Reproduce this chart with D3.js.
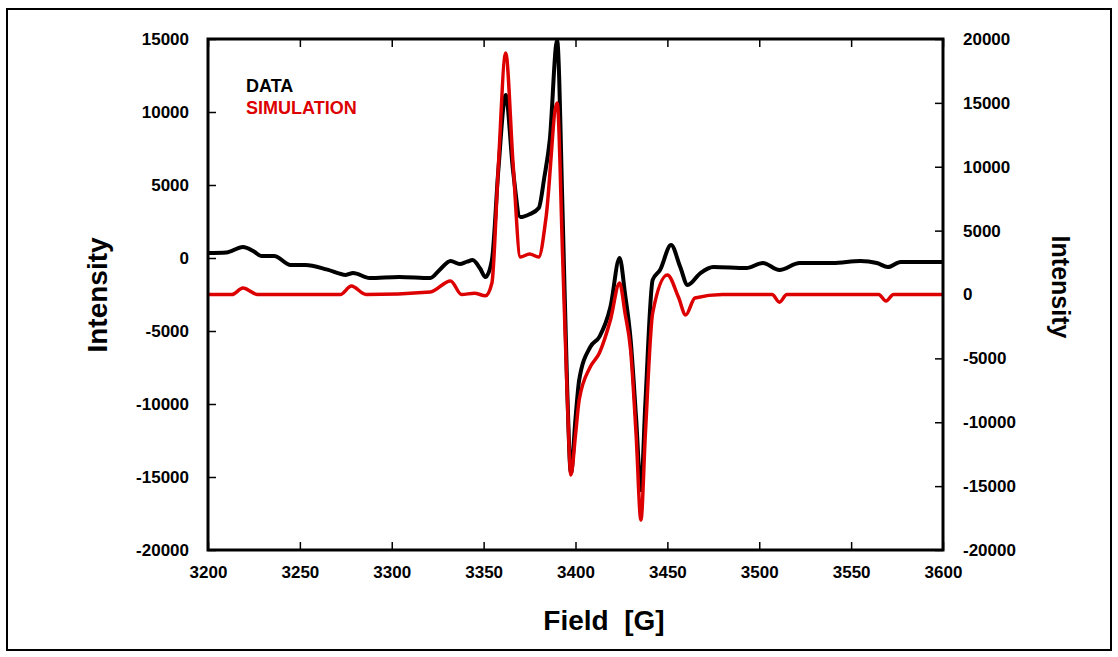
<!DOCTYPE html>
<html>
<head>
<meta charset="utf-8">
<script src="https://cdn.jsdelivr.net/npm/d3@7"></script>
<style>
  body { margin: 0; background: #fff; }
  svg { display: block; font-family: "Liberation Sans", Arial, sans-serif; }
</style>
</head>
<body>
<div id="chart"></div>
<script>
// Field in gauss
const dataField = [3200, 3210, 3219, 3225, 3229, 3236, 3245, 3253, 3265, 3275, 3279, 3288, 3304, 3321, 3326, 3332, 3337, 3341, 3344, 3348, 3351, 3354.5, 3358, 3362, 3366, 3370, 3375, 3380, 3383, 3386, 3390, 3393, 3395.5, 3397.5, 3400, 3402, 3408, 3413, 3419, 3424, 3427, 3430, 3433, 3435.6, 3438, 3442, 3446, 3452, 3457, 3461, 3468, 3475, 3493, 3502, 3511, 3522, 3540, 3555, 3564, 3570, 3577, 3600];
const dataIntensity = [340, 380, 750, 450, 140, 140, -480, -480, -800, -1160, -1030, -1370, -1300, -1370, -820, -200, -410, -250, -140, -700, -1300, -140, 6000, 11160, 6000, 2800, 3000, 3420, 5500, 8080, 14900, 3000, -9000, -14730, -11000, -8360, -6100, -5400, -3360, 0, -2500, -5600, -11000, -15900, -10000, -1500, -820, 890, -620, -1850, -1030, -620, -690, -340, -820, -340, -340, -200, -340, -620, -270, -270];

const simField = [3200, 3213, 3219, 3227, 3272, 3278, 3286, 3321, 3332, 3338, 3345, 3351, 3354.5, 3358, 3362, 3366, 3370, 3375, 3380, 3384, 3390, 3393, 3395.5, 3397.5, 3400, 3402, 3408, 3413, 3419, 3424, 3427, 3430, 3433, 3435.6, 3438, 3442, 3450, 3456, 3460, 3465, 3480, 3507, 3511, 3515, 3565, 3569, 3573, 3600];
const simIntensity = [0, 0, 500, 0, 0, 660, 0, 200, 1060, 0, 100, -100, 900, 10000, 18900, 10290, 2940, 3170, 2940, 6070, 15000, 3000, -8000, -14130, -11000, -8260, -5680, -4580, -2000, 900, -1500, -4350, -11000, -17650, -11000, -1450, 1530, -200, -1600, -270, 0, 0, -600, 0, 0, -500, 0, 0];

const xTicks = [3200, 3250, 3300, 3350, 3400, 3450, 3500, 3550, 3600];
const leftTicks = [15000, 10000, 5000, 0, -5000, -10000, -15000, -20000];
const rightTicks = [20000, 15000, 10000, 5000, 0, -5000, -10000, -15000, -20000];

const W = 1118, H = 657;
const plot = { left: 208, right: 943, top: 39, bottom: 550 };

const svg = d3.select('#chart').append('svg')
    .attr('width', W)
    .attr('height', H);

// outer frame
svg.append('rect')
    .attr('x', 7).attr('y', 9)
    .attr('width', 1104).attr('height', 641)
    .attr('fill', 'none')
    .attr('stroke', '#000')
    .attr('stroke-width', 2);

const x = d3.scaleLinear().domain([3200, 3600]).range([plot.left, plot.right]);
const yL = d3.scaleLinear().domain([-20000, 15000]).range([plot.bottom, plot.top]);
const yR = d3.scaleLinear().domain([-20000, 20000]).range([plot.bottom, plot.top]);

const tickLen = 8;
const plain = d => String(d); // plain hyphen minus, like the original

function styleAxis(g) {
    g.select('.domain').remove();
    g.selectAll('.tick line').attr('stroke', '#000').attr('stroke-width', 1.5);
    g.selectAll('.tick text')
        .attr('fill', '#000')
        .style('font-size', '17px')
        .style('font-weight', 'bold');
}

// bottom axis
svg.append('g')
    .attr('transform', `translate(0,${plot.bottom})`)
    .call(d3.axisBottom(x).tickValues(xTicks).tickSize(-tickLen).tickPadding(16).tickFormat(plain))
    .call(styleAxis);

// top ticks
svg.append('g')
    .attr('transform', `translate(0,${plot.top})`)
    .call(d3.axisTop(x).tickValues(xTicks).tickSize(-tickLen).tickFormat(''))
    .call(styleAxis);

// left axis
svg.append('g')
    .attr('transform', `translate(${plot.left},0)`)
    .call(d3.axisLeft(yL).tickValues(leftTicks).tickSize(-tickLen).tickPadding(19).tickFormat(plain))
    .call(styleAxis);

// right axis
svg.append('g')
    .attr('transform', `translate(${plot.right},0)`)
    .call(d3.axisRight(yR).tickValues(rightTicks).tickSize(-tickLen).tickPadding(20).tickFormat(plain))
    .call(styleAxis);

// clip for curves
svg.append('clipPath').attr('id', 'clip')
    .append('rect')
    .attr('x', plot.left).attr('y', plot.top)
    .attr('width', plot.right - plot.left).attr('height', plot.bottom - plot.top);

const simLine = d3.line()
    .x((d, i) => x(simField[i]))
    .y(d => yR(d))
    .curve(d3.curveMonotoneX);

const dataLine = d3.line()
    .x((d, i) => x(dataField[i]))
    .y(d => yL(d))
    .curve(d3.curveMonotoneX);

const curves = svg.append('g').attr('clip-path', 'url(#clip)');

curves.append('path')
    .attr('d', dataLine(dataIntensity))
    .attr('fill', 'none')
    .attr('stroke', '#000')
    .attr('stroke-width', 4)
    .attr('stroke-linejoin', 'round');

curves.append('path')
    .attr('d', simLine(simIntensity))
    .attr('fill', 'none')
    .attr('stroke', '#dd0000')
    .attr('stroke-width', 3.5)
    .attr('stroke-linejoin', 'round');

// plot frame
svg.append('rect')
    .attr('x', plot.left).attr('y', plot.top)
    .attr('width', plot.right - plot.left).attr('height', plot.bottom - plot.top)
    .attr('fill', 'none')
    .attr('stroke', '#000')
    .attr('stroke-width', 3);

// legend
svg.append('text')
    .attr('x', 246).attr('y', 92)
    .style('font-size', '18px').style('font-weight', 'bold')
    .attr('fill', '#000')
    .text('DATA');
svg.append('text')
    .attr('x', 246).attr('y', 114)
    .style('font-size', '18px').style('font-weight', 'bold')
    .attr('fill', '#dd0000')
    .text('SIMULATION');

// axis titles
svg.append('text')
    .attr('transform', 'translate(107,295) rotate(-90)')
    .attr('text-anchor', 'middle')
    .style('font-size', '28px').style('font-weight', 'bold')
    .text('Intensity');

svg.append('text')
    .attr('transform', 'translate(1052,287) rotate(90)')
    .attr('text-anchor', 'middle')
    .style('font-size', '25px').style('font-weight', 'bold')
    .text('Intensity');

svg.append('text')
    .attr('x', 604).attr('y', 630)
    .attr('text-anchor', 'middle')
    .style('font-size', '28px').style('font-weight', 'bold')
    .attr('xml:space', 'preserve')
    .text('Field  [G]');
</script>
</body>
</html>
